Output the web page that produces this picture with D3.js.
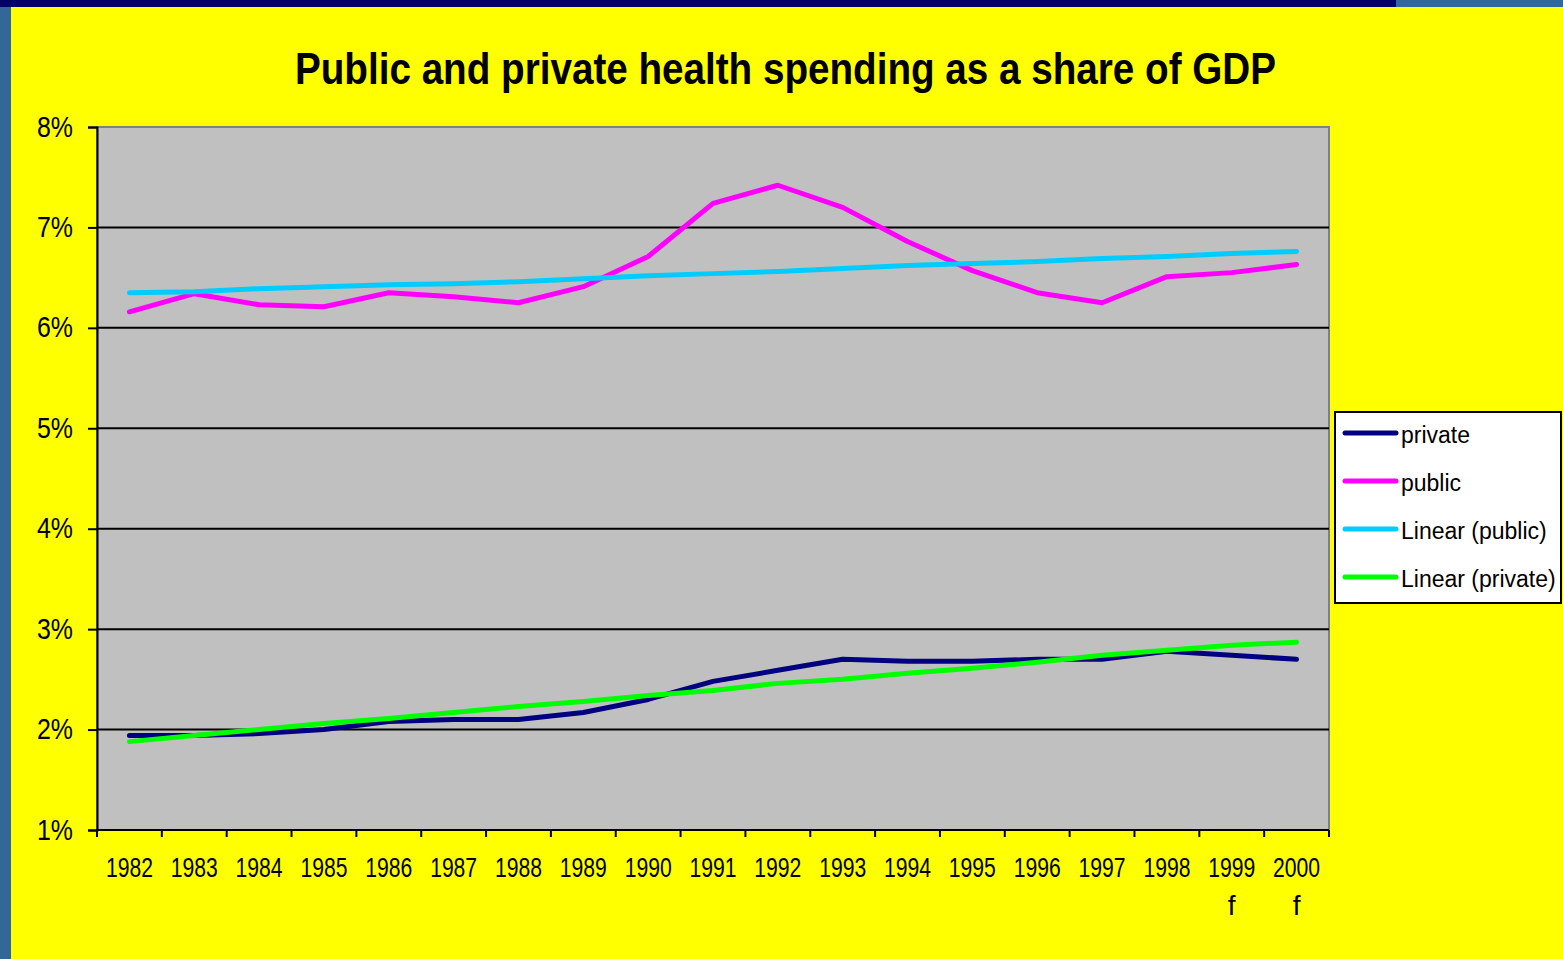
<!DOCTYPE html>
<html>
<head>
<meta charset="utf-8">
<script src="https://cdn.jsdelivr.net/npm/d3@7"></script>
<style>
html,body{margin:0;padding:0;background:#ffff00;overflow:hidden;}
svg{display:block;}
</style>
</head>
<body>
<svg id="chart" width="1563" height="959"></svg>
<script>
const years = ["1982","1983","1984","1985","1986","1987","1988","1989","1990","1991","1992","1993","1994","1995","1996","1997","1998","1999","2000"];
const yearSub = ["","","","","","","","","","","","","","","","","","f","f"];
const privateVals = [1.94,1.94,1.96,2.00,2.08,2.10,2.10,2.17,2.30,2.48,2.59,2.70,2.68,2.68,2.70,2.70,2.78,2.74,2.70];
const publicVals  = [6.16,6.34,6.23,6.21,6.35,6.31,6.25,6.41,6.71,7.24,7.42,7.20,6.86,6.57,6.35,6.25,6.51,6.55,6.63];
const linPublic   = [6.35,6.36,6.39,6.41,6.43,6.44,6.46,6.49,6.52,6.54,6.56,6.59,6.62,6.64,6.66,6.69,6.71,6.74,6.76];
const linPrivate  = [1.88,1.94,2.00,2.06,2.11,2.17,2.23,2.28,2.34,2.39,2.46,2.50,2.56,2.61,2.67,2.74,2.79,2.84,2.87];
const yTicks = [1,2,3,4,5,6,7,8];
const chartTitle = "Public and private health spending as a share of GDP";
const seriesNames = ["private","public","Linear (public)","Linear (private)"];
const seriesColors = ["#000080","#ff00ff","#00ccff","#00ff00"];

const svg = d3.select("#chart");

// background decorations
svg.append("rect").attr("x",0).attr("y",0).attr("width",1563).attr("height",959).attr("fill","#ffff00");
svg.append("rect").attr("x",0).attr("y",0).attr("width",1396).attr("height",7).attr("fill","#000066");
svg.append("rect").attr("x",1396).attr("y",0).attr("width",167).attr("height",7).attr("fill","#336699");
svg.append("rect").attr("x",0).attr("y",7).attr("width",11).attr("height",952).attr("fill","#336699");

const mLeft = 97, mRight = 1329, mTop = 127, mBottom = 830;

const x = d3.scaleBand().domain(years).range([mLeft, mRight]).paddingInner(0).paddingOuter(0);
const y = d3.scaleLinear().domain([1, 8]).range([mBottom, mTop]);

// plot area
svg.append("rect").attr("x",mLeft).attr("y",mTop).attr("width",mRight-mLeft).attr("height",mBottom-mTop)
  .attr("fill","#c0c0c0").attr("stroke","#808080").attr("stroke-width",2);

// gridlines
svg.append("g").selectAll("line").data(yTicks.filter(d=>d>1 && d<8)).join("line")
  .attr("x1",mLeft).attr("x2",mRight).attr("y1",d=>y(d)).attr("y2",d=>y(d))
  .attr("stroke","#000").attr("stroke-width",2);

// y axis
const yAxis = svg.append("g").attr("transform",`translate(${mLeft},0)`)
  .call(d3.axisLeft(y).tickValues(yTicks).tickFormat(d=>d+"%").tickSize(9).tickPadding(15));
yAxis.select(".domain").attr("stroke","#000").attr("stroke-width",2);
yAxis.selectAll(".tick line").attr("stroke","#000").attr("stroke-width",2);
yAxis.selectAll(".tick text").attr("font-family","'Liberation Sans Narrow','Liberation Sans',Arial,sans-serif")
  .attr("font-size",30).attr("fill","#000").attr("dy","0.3em")
  .attr("textLength",36).attr("lengthAdjust","spacingAndGlyphs");

// x axis with ticks on category boundaries
const xAxisG = svg.append("g").attr("transform",`translate(0,${mBottom})`);
xAxisG.append("line").attr("x1",mLeft-1).attr("x2",mRight).attr("y1",0).attr("y2",0).attr("stroke","#000").attr("stroke-width",2);
const bounds = years.map(d=>x(d)).concat([mRight]);
xAxisG.selectAll("line.tk").data(bounds).join("line").attr("class","tk")
  .attr("x1",d=>d).attr("x2",d=>d).attr("y1",0).attr("y2",7).attr("stroke","#000").attr("stroke-width",2);
xAxisG.selectAll("text.yr").data(years).join("text").attr("class","yr")
  .attr("x",d=>x(d)+x.bandwidth()/2).attr("y",47)
  .attr("text-anchor","middle").attr("font-family","'Liberation Sans Narrow','Liberation Sans',Arial,sans-serif")
  .attr("font-size",28).attr("fill","#000")
  .attr("textLength",47).attr("lengthAdjust","spacingAndGlyphs")
  .text(d=>d);
xAxisG.selectAll("text.sub").data(years.map((d,i)=>({d,s:yearSub[i]})).filter(o=>o.s)).join("text").attr("class","sub")
  .attr("x",o=>x(o.d)+x.bandwidth()/2).attr("y",85)
  .attr("text-anchor","middle").attr("font-family","'Liberation Sans Narrow','Liberation Sans',Arial,sans-serif")
  .attr("font-size",28).attr("fill","#000")
  .text(o=>o.s);

// lines
const line = d3.line().x((d,i)=>x(years[i])+x.bandwidth()/2).y(d=>y(d));
const drawOrder = [
  {vals:publicVals,color:seriesColors[1]},
  {vals:privateVals,color:seriesColors[0]},
  {vals:linPublic,color:seriesColors[2]},
  {vals:linPrivate,color:seriesColors[3]}
];
svg.append("g").selectAll("path").data(drawOrder).join("path")
  .attr("d",d=>line(d.vals)).attr("fill","none").attr("stroke",d=>d.color)
  .attr("stroke-width",5).attr("stroke-linejoin","round").attr("stroke-linecap","round");

// title
svg.append("text").attr("x",785.5).attr("y",84).attr("text-anchor","middle")
  .attr("font-family","'Liberation Sans',Arial,sans-serif").attr("font-weight","bold")
  .attr("font-size",44).attr("fill","#000")
  .attr("textLength",981).attr("lengthAdjust","spacingAndGlyphs")
  .text(chartTitle);

// legend
const lg = svg.append("g");
lg.append("rect").attr("x",1335).attr("y",412).attr("width",226).attr("height",191)
  .attr("fill","#fff").attr("stroke","#000").attr("stroke-width",2);
const items = lg.selectAll("g.it").data(seriesNames).join("g").attr("class","it")
  .attr("transform",(d,i)=>`translate(0,${433+i*48})`);
items.append("line").attr("x1",1345).attr("x2",1396).attr("y1",0).attr("y2",0)
  .attr("stroke",(d,i)=>seriesColors[i]).attr("stroke-width",5).attr("stroke-linecap","round");
items.append("text").attr("x",1401).attr("y",0).attr("dy","0.45em")
  .attr("font-family","'Liberation Sans',Arial,sans-serif").attr("font-size",23).attr("fill","#000")
  .text(d=>d);
</script>
</body>
</html>
